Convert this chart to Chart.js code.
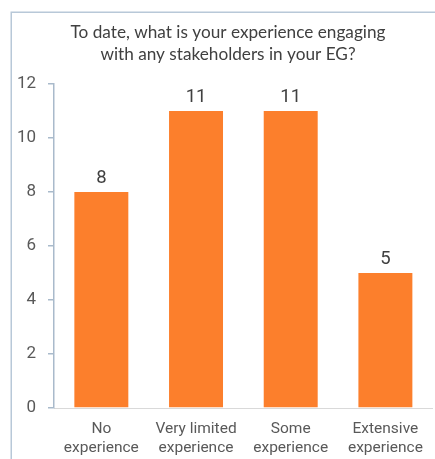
<!DOCTYPE html>
<html>
<head>
<meta charset="utf-8">
<script src="https://cdn.jsdelivr.net/npm/chart.js@4"></script>
<style>
  html, body { margin: 0; padding: 0; background: #ffffff; }
  #wrap { position: relative; width: 435px; height: 459px; }
</style>
</head>
<body>
<div id="wrap"><canvas id="c" width="435" height="459"></canvas></div>
<script>
const titleLines = ["To date, what is your experience engaging", "with any stakeholders in your EG?"];
const categories = [["No", "experience"], ["Very limited", "experience"], ["Some", "experience"], ["Extensive", "experience"]];
const counts = [8, 11, 11, 5];
const yTicks = [0, 2, 4, 6, 8, 10, 12];

const barColor = "#FC7F2C";
const axisColor = "#A9BACB";
const textGray = "#595959";
const darkText = "#404040";

const framePlugin = {
  id: "frame",
  beforeDraw(chart) {
    const ctx = chart.ctx;
    ctx.save();
    ctx.fillStyle = "#ffffff";
    ctx.fillRect(0, 0, chart.width, chart.height);
    ctx.strokeStyle = "#B8C8D8";
    ctx.lineWidth = 1.5;
    ctx.beginPath();
    ctx.moveTo(11.25, chart.height);
    ctx.lineTo(11.25, 12.25);
    ctx.lineTo(chart.width, 12.25);
    ctx.stroke();
    ctx.restore();
  }
};

const titlePlugin = {
  id: "customTitle",
  afterDraw(chart) {
    const ctx = chart.ctx;
    ctx.save();
    ctx.fillStyle = darkText;
    ctx.font = "17.2px Lato";
    ctx.textAlign = "center";
    ctx.textBaseline = "middle";
    ctx.fillText(titleLines[0], 228, 32);
    ctx.fillText(titleLines[1], 228, 54);
    ctx.restore();
  }
};

const valueLabels = {
  id: "valueLabels",
  afterDatasetsDraw(chart) {
    const ctx = chart.ctx;
    const meta = chart.getDatasetMeta(0);
    ctx.save();
    ctx.fillStyle = darkText;
    ctx.font = "18.5px Roboto";
    ctx.textAlign = "center";
    ctx.textBaseline = "alphabetic";
    meta.data.forEach((bar, i) => {
      ctx.fillText(String(counts[i]), bar.x, bar.y - 9);
    });
    ctx.restore();
  }
};

new Chart(document.getElementById("c"), {
  type: "bar",
  data: {
    labels: categories,
    datasets: [{
      data: counts,
      backgroundColor: barColor,
      borderWidth: 0,
      categoryPercentage: 1.0,
      barPercentage: 0.57
    }]
  },
  options: {
    responsive: false,
    animation: false,
    devicePixelRatio: 1,
    layout: { padding: { top: 84, right: 1, bottom: 0, left: 0 } },
    plugins: {
      legend: { display: false },
      title: { display: false },
      tooltip: { enabled: false }
    },
    scales: {
      x: {
        afterFit(scale) { scale.height = 51; },
        grid: { display: false, drawTicks: false },
        border: { display: true, color: "#D9D9D9", width: 1 },
        ticks: {
          color: textGray,
          font: { family: "Roboto", size: 15.5, lineHeight: 1.22 },
          padding: 12,
          maxRotation: 0,
          autoSkip: false
        }
      },
      y: {
        min: 0,
        max: 12,
        afterBuildTicks(scale) { scale.ticks = yTicks.map(v => ({ value: v })); },
        afterFit(scale) { scale.width = 54; },
        grid: {
          display: true,
          drawOnChartArea: false,
          drawTicks: true,
          tickLength: 6,
          color: axisColor,
          lineWidth: 1.5
        },
        border: { display: true, color: axisColor, width: 1.5 },
        ticks: {
          color: textGray,
          font: { family: "Roboto", size: 17 },
          padding: 12
        }
      }
    }
  },
  plugins: [framePlugin, titlePlugin, valueLabels]
});
</script>
</body>
</html>
